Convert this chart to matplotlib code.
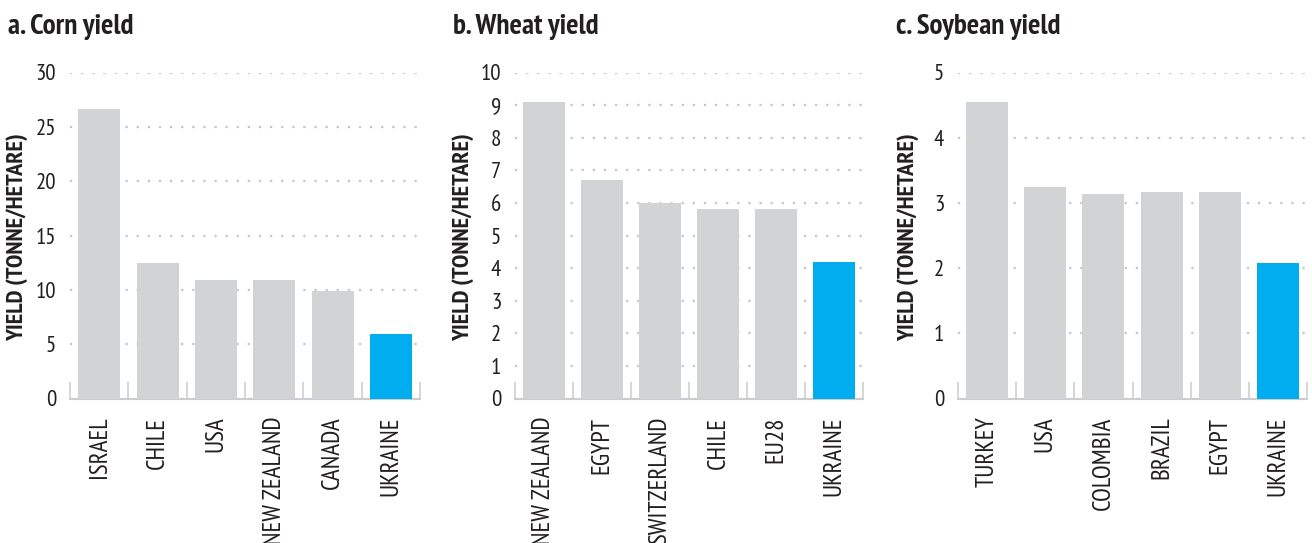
import numpy as np
import matplotlib
matplotlib.use('Agg')
import matplotlib.pyplot as plt
from matplotlib import font_manager

# narrow face, closest to the original condensed type
have = set(f.name for f in font_manager.fontManager.ttflist)
fam = 'DejaVu Sans'
for cand in ['PT Sans Narrow', 'Fira Sans Condensed', 'Archivo Narrow']:
    if cand in have:
        fam = cand
        break
plt.rcParams['font.family'] = [fam, 'DejaVu Sans']

corn_names = ['ISRAEL', 'CHILE', 'USA', 'NEW ZEALAND', 'CANADA', 'UKRAINE']
corn_vals = [26.6, 12.5, 10.9, 10.9, 9.9, 5.9]
wheat_names = ['NEW ZEALAND', 'EGYPT', 'SWITZERLAND', 'CHILE', 'EU28', 'UKRAINE']
wheat_vals = [9.1, 6.7, 6.0, 5.8, 5.8, 4.2]
soy_names = ['TURKEY', 'USA', 'COLOMBIA', 'BRAZIL', 'EGYPT', 'UKRAINE']
soy_vals = [4.55, 3.25, 3.13, 3.16, 3.16, 2.08]

titles = ['a. Corn yield', 'b. Wheat yield', 'c. Soybean yield']
ymaxes = [30, 10, 5]
ysteps = [5, 1, 1]

grey = '#d1d3d4'
blue = '#00aeef'
txt = '#231f20'

W, H = 1312, 543
fig = plt.figure(figsize=(W / 100, H / 100), dpi=100)

lefts = [70, 515, 958]
rights = [420, 863, 1307]
top_px, bot_px = 72.5, 398.5
title_x = [8, 453, 896]
ylab_x = [17, 463, 908]

panels = [(corn_names, corn_vals), (wheat_names, wheat_vals), (soy_names, soy_vals)]
for i, (names_, vals) in enumerate(panels):
    ax = fig.add_axes([lefts[i] / W, 1 - bot_px / H, (rights[i] - lefts[i]) / W, (bot_px - top_px) / H])
    x = np.arange(len(vals))
    cols = [grey] * (len(vals) - 1) + [blue]
    ax.bar(x, vals, width=0.72, color=cols, zorder=3)
    ax.set_xlim(-0.5, len(vals) - 0.5)
    ax.set_ylim(0, ymaxes[i])
    ax.set_yticks(np.arange(0, ymaxes[i] + 0.01, ysteps[i]))
    ax.set_xticks(x)
    ax.set_xticklabels(names_, rotation=90, va='top', ha='center')
    ax.set_xticks(np.arange(-0.5, len(vals), 1), minor=True)
    ax.tick_params(axis='x', which='major', length=0, pad=13, labelsize=18, labelcolor=txt)
    ax.tick_params(axis='x', which='minor', direction='in', length=12, color='#cccccc', width=1.1)
    ax.tick_params(axis='y', length=0, pad=10, labelsize=16.5, labelcolor=txt)
    for s in ['top', 'right', 'left']:
        ax.spines[s].set_visible(False)
    ax.spines['bottom'].set_color('#cccccc')
    ax.spines['bottom'].set_linewidth(1.5)
    ax.grid(axis='y', color='#c6c6c6', linestyle=(0, (1, 4)), linewidth=1.6, zorder=0)
    ax.set_axisbelow(True)
    fig.text(title_x[i] / W, 1 - 33.5 / H, titles[i], fontsize=21, fontweight='bold',
             color=txt, ha='left', va='baseline')
    fig.text(ylab_x[i] / W, 1 - 237 / H, 'YIELD (TONNE/HETARE)', fontsize=17.5, fontweight='bold',
             color=txt, rotation=90, ha='center', va='center')

fig.savefig('out.png', dpi=100)
